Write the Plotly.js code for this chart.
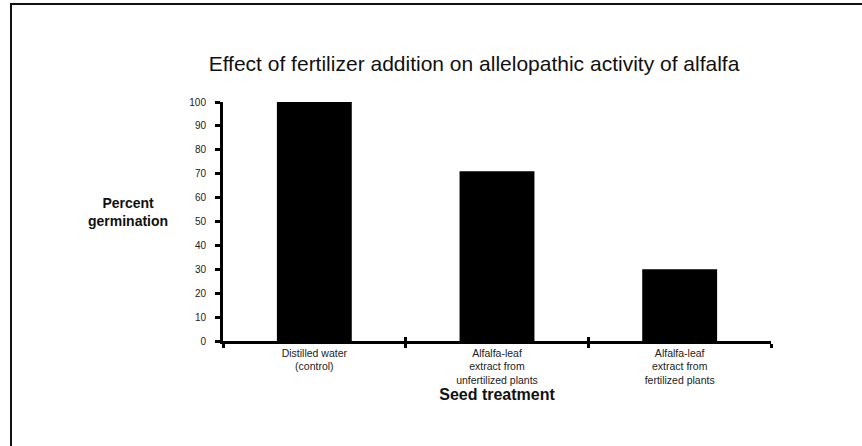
<!DOCTYPE html>
<html>
<head>
<meta charset="utf-8">
<script src="https://cdn.plot.ly/plotly-3.0.1.min.js"></script>
<style>
html,body{margin:0;padding:0;background:#fff;}
#wrap{position:relative;width:862px;height:446px;overflow:hidden;}
#chart{width:862px;height:446px;}
#frame{position:absolute;left:10px;top:3px;width:900px;height:500px;border-left:2px solid #111;border-top:2px solid #111;pointer-events:none;}
</style>
</head>
<body>
<div id="wrap"><div id="chart"></div><div id="frame"></div></div>
<script>
var categories = [
  "Distilled water<br>(control)",
  "Alfalfa-leaf<br>extract from<br>unfertilized plants",
  "Alfalfa-leaf<br>extract from<br>fertilized plants"
];
var germination = [100, 71, 30];
var yTicks = [0, 10, 20, 30, 40, 50, 60, 70, 80, 90, 100];

var font = "Liberation Sans, Arial, sans-serif";

var traces = [{
  type: "bar",
  x: categories,
  y: germination,
  width: 0.41,
  marker: {color: "#000", line: {width: 0}},
  hoverinfo: "skip"
}, {
  type: "bar", x: categories, y: [0, 0, 0], xaxis: "x2", yaxis: "y",
  marker: {color: "rgba(0,0,0,0)"}, hoverinfo: "skip", showlegend: false
}];

var layout = {
  width: 862, height: 446,
  margin: {l: 223, r: 91, t: 102, b: 105},
  paper_bgcolor: "#fff", plot_bgcolor: "#fff",
  showlegend: false,
  font: {family: font, color: "#111"},
  title: {
    text: "Effect of fertilizer addition on allelopathic activity of alfalfa",
    font: {size: 21, family: font, color: "#111"},
    xref: "container", yref: "container",
    x: 474/862, xanchor: "center",
    y: 1 - 64/446, yanchor: "middle"
  },
  xaxis: {
    type: "category",
    range: [-0.5, 2.5],
    showline: true, linecolor: "#000", linewidth: 3,
    ticks: "outside", ticklen: 4, tickwidth: 3, tickcolor: "#000",
    tickson: "boundaries",
    tickfont: {size: 10.5, family: font, color: "#222"},
    showgrid: false, zeroline: false,
    title: {text: "<b>Seed treatment</b>", font: {size: 16, family: font, color: "#111"}, standoff: 1},
    fixedrange: true
  },
  xaxis2: {
    type: "category",
    overlaying: "x", anchor: "y",
    range: [-0.5, 2.5],
    matches: "x",
    showline: false,
    ticks: "inside", ticklen: 4, tickwidth: 3, tickcolor: "#000",
    tickson: "boundaries",
    showticklabels: false, showgrid: false, zeroline: false
  },
  yaxis: {
    range: [0, 100],
    tickvals: yTicks,
    ticktext: yTicks.map(String),
    showline: true, linecolor: "#000", linewidth: 3,
    ticks: "outside", ticklen: 5, tickwidth: 3, tickcolor: "#000",
    ticklabelstandoff: 7,
    tickfont: {size: 10, family: font, color: "#222"},
    showgrid: false, zeroline: false,
    fixedrange: true
  },
  annotations: [{
    text: "<b>Percent<br>germination</b>",
    xref: "paper", yref: "paper",
    x: (128 - 223) / 548, y: (341 - 212) / 239,
    xanchor: "center", yanchor: "middle",
    showarrow: false, align: "center",
    font: {size: 14, family: font, color: "#111"}
  }]
};

Plotly.newPlot("chart", traces, layout, {displayModeBar: false, staticPlot: true});
</script>
</body>
</html>
